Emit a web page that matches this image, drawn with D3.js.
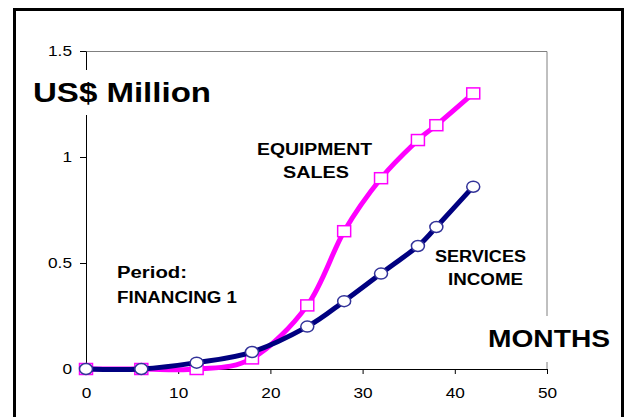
<!DOCTYPE html>
<html>
<head>
<meta charset="utf-8">
<script src="https://d3js.org/d3.v7.min.js"></script>
<style>
	body { margin: 0; background: #fff; }
	text { font-family: "Liberation Sans", Arial, sans-serif; }
</style>
</head>
<body>
<div id="my_dataviz"></div>
<script>
var margin = { top: 51, right: 79, bottom: 48, left: 86 },
	width = 626 - margin.left - margin.right,
	height = 417 - margin.top - margin.bottom;

const MONTHS = [0, 6, 12, 18, 24, 28, 32, 36, 38, 42];
const EQUIPMENT_SALES = [0, 0, 0, 0.05, 0.3, 0.65, 0.9, 1.08, 1.15, 1.3];
const SERVICES_INCOME = [0, 0, 0.03, 0.08, 0.2, 0.32, 0.45, 0.58, 0.67, 0.86];
const X_TICKS = [0, 10, 20, 30, 40, 50];
const Y_TICKS = [0, 0.5, 1, 1.5];

var svg = d3
	.select("#my_dataviz")
	.append("svg")
	.attr("width", 626)
	.attr("height", 417);

// outer frame
svg
	.append("rect")
	.attr("x", 14.5)
	.attr("y", 9.5)
	.attr("width", 608)
	.attr("height", 430)
	.attr("fill", "none")
	.attr("stroke", "#000")
	.attr("stroke-width", 3);

var g = svg
	.append("g")
	.attr("transform", "translate(" + margin.left + "," + margin.top + ")");

var x = d3.scaleLinear().domain([0, 50]).range([0, width]);
var y = d3.scaleLinear().domain([0, 1.5]).range([height, 0]);

// plot area border (top + right, grey)
g.append("path")
	.attr("d", "M0,0.5H" + x(50) + "V" + height)
	.attr("fill", "none")
	.attr("stroke", "#808080")
	.attr("stroke-width", 1);

// axes
var xAxis = g
	.append("g")
	.attr("transform", "translate(0," + height + ")")
	.call(d3.axisBottom(x).tickValues(X_TICKS).tickSize(5).tickSizeOuter(0).tickPadding(13));

var yAxis = g
	.append("g")
	.call(
		d3.axisLeft(y).tickValues(Y_TICKS).tickSize(6).tickSizeOuter(0).tickPadding(8)
			.tickFormat(function (d) { return d === 0 ? "0" : String(d); })
	);

[xAxis, yAxis].forEach(function (a) {
	a.select(".domain").attr("stroke", "#000");
	a.selectAll("line").attr("stroke", "#000");
	a.selectAll("text")
		.attr("fill", "#000")
		.style("font-size", "15px")
		.style("font-family", "'Liberation Sans', Arial, sans-serif");
});

// the original text is a little wide, stretch the tick labels to match
xAxis.selectAll(".tick text").attr("transform", "scale(1.15,1)");
yAxis.selectAll(".tick text")
	.attr("x", -14 / 1.15)
	.attr("transform", "scale(1.15,1)");

var line = d3
	.line()
	.x(function (d, i) { return x(MONTHS[i]); })
	.y(function (d) { return y(d); })
	.curve(d3.curveCardinal.tension(0));

// equipment sales
g.append("path")
	.datum(EQUIPMENT_SALES)
	.attr("d", line)
	.attr("fill", "none")
	.attr("stroke", "#ff00ff")
	.attr("stroke-width", 5)
	.attr("stroke-linejoin", "round");

g.selectAll("sq")
	.data(EQUIPMENT_SALES)
	.enter()
	.append("rect")
	.attr("x", function (d, i) { return x(MONTHS[i]) - 6.5; })
	.attr("y", function (d) { return y(d) - 5.5; })
	.attr("width", 13)
	.attr("height", 11)
	.attr("fill", "#fff")
	.attr("stroke", "#ff00ff")
	.attr("stroke-width", 1.5);

// services income
g.append("path")
	.datum(SERVICES_INCOME)
	.attr("d", line)
	.attr("fill", "none")
	.attr("stroke", "#000080")
	.attr("stroke-width", 5)
	.attr("stroke-linejoin", "round");

g.selectAll("circ")
	.data(SERVICES_INCOME)
	.enter()
	.append("ellipse")
	.attr("cx", function (d, i) { return x(MONTHS[i]); })
	.attr("cy", function (d) { return y(d); })
	.attr("rx", 6.5)
	.attr("ry", 5.5)
	.attr("fill", "#fff")
	.attr("stroke", "#333399")
	.attr("stroke-width", 1.5);

// axis titles with white backing
svg.append("rect").attr("x", 30).attr("y", 70).attr("width", 184).attr("height", 45).attr("fill", "#fff");
svg
	.append("text")
	.attr("x", 33)
	.attr("y", 102)
	.attr("textLength", 178)
	.attr("lengthAdjust", "spacingAndGlyphs")
	.style("font-size", "27px")
	.style("font-weight", "bold")
	.text("US$ Million");

svg.append("rect").attr("x", 485).attr("y", 316).attr("width", 130).attr("height", 46).attr("fill", "#fff");
svg
	.append("text")
	.attr("x", 488)
	.attr("y", 347)
	.attr("textLength", 122)
	.attr("lengthAdjust", "spacingAndGlyphs")
	.style("font-size", "24px")
	.style("font-weight", "bold")
	.text("MONTHS");

// annotations
function label(txt, x0, y0, len, anchor) {
	svg
		.append("text")
		.attr("x", x0)
		.attr("y", y0)
		.attr("text-anchor", anchor || "start")
		.attr("textLength", len)
		.attr("lengthAdjust", "spacingAndGlyphs")
		.style("font-size", "16px")
		.style("font-weight", "bold")
		.text(txt);
}

label("EQUIPMENT", 257, 155, 115);
label("SALES", 283, 178, 66);
label("Period:", 117, 278, 70);
label("FINANCING 1", 117, 303, 120);
label("SERVICES", 435, 262, 91);
label("INCOME", 448, 285, 75);
</script>
</body>
</html>
